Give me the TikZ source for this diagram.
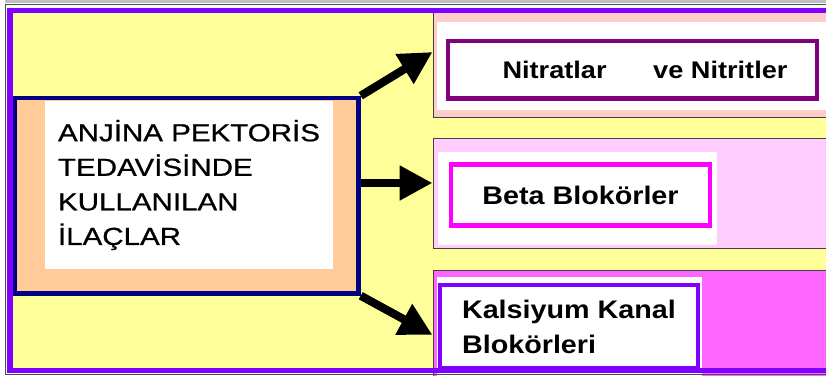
\documentclass[tikz,border=0pt]{standalone}
\usepackage{fontspec}
\setmainfont{Liberation Sans}
\newfontfamily\titlefont[FakeStretch=1.2,FakeBold=0.8]{Liberation Sans}
\newfontfamily\boxfont[FakeStretch=1.13]{Liberation Sans}
\usetikzlibrary{arrows.meta,positioning}

\definecolor{lightyellow}{HTML}{FFFF99}
\definecolor{peach}{HTML}{FFCC99}
\definecolor{navy}{HTML}{000080}
\definecolor{plum}{HTML}{800080}
\definecolor{fuchsialine}{HTML}{FF00FF}
\definecolor{violetline}{HTML}{8000FF}
\definecolor{rosepanel}{HTML}{FFCCCC}
\definecolor{lilacpanel}{HTML}{FFCCFF}
\definecolor{pinkpanel}{HTML}{FF66FF}

\begin{document}
\begin{tikzpicture}[x=0.03cm, y=-0.03cm,
  panel/.style={draw=black!75, line width=0.8pt, minimum width=14.01cm, inner sep=0pt},
  drugbox/.style={draw, fill=white, line width=4.2pt, inner sep=0pt,
    font=\boxfont\bfseries\fontsize{21.7}{29.9}\selectfont},
  bigarrow/.style={line width=7pt, -{Triangle[length=28pt,width=28pt]}}]

\useasboundingbox (0,0) rectangle (826,376);
\clip (0,0) rectangle (826,376);
\fill[lightyellow] (7,8) rectangle (850,372);

% right hand panels
\node (nitratpanel) [panel, fill=rosepanel, minimum height=3.15cm] at (666.5,64.5) {};
\node (betapanel) [panel, fill=lilacpanel, minimum height=3.3cm] at (666.5,193) {};
\node (kalsiyumpanel) [panel, fill=pinkpanel, minimum height=3.9cm] at (666.5,335) {};
\fill[white] (437,22) rectangle (850,110);
\fill[white] (438,152) rectangle (717,245);
\fill[white] (437,277) rectangle (702,390);

\node (nitrat) [drugbox, draw=plum, minimum width=11.07cm, minimum height=1.725cm] at (632.5,69.75)
  {\hspace*{0.75cm}\fontsize{20.5}{29.9}\selectfont Nitratlar\hspace{1.4cm}ve Nitritler};
\node (beta) [drugbox, draw=fuchsialine, minimum width=7.77cm, minimum height=1.83cm] at (580.5,195)
  {Beta Blokörler};
\node (kalsiyum) [drugbox, draw=violetline, minimum width=7.74cm, minimum height=2.49cm, align=left] at (569,326.5)
  {Kalsiyum Kanal\\Blokörleri};

% left hand box
\node (frame) [draw=navy, fill=peach, line width=3.8pt, minimum width=10.305cm, minimum height=5.865cm] at (186.75,195.75) {};
\node (drugs) [fill=white, minimum width=8.64cm, minimum height=5.04cm, align=left,
  font=\titlefont\fontsize{21}{29.5}\selectfont] at (189,185)
  {ANJİNA PEKTORİS\\TEDAVİSİNDE\\KULLANILAN\\İLAÇLAR};

\coordinate (nitrattip) at ([yshift=0.375cm]nitratpanel.west);
\coordinate (betatip) at ([yshift=0.3cm]betapanel.west);

\draw[bigarrow] (frame.north east) -- (nitrattip);
\draw[bigarrow] (frame.east |- betatip) -- (betatip);
\draw[bigarrow] (frame.south east) -- (kalsiyumpanel.west);

% frame round the slide
\draw[violetline, line width=4.3pt] (10,10.5) rectangle (860,370.5);
\draw[black!70, line width=1.5pt] (5.5,4.5) rectangle (860,374.5);
\draw[black!25, line width=2.5pt] (5,1.5) -- (826,1.5);
\end{tikzpicture}
\end{document}
